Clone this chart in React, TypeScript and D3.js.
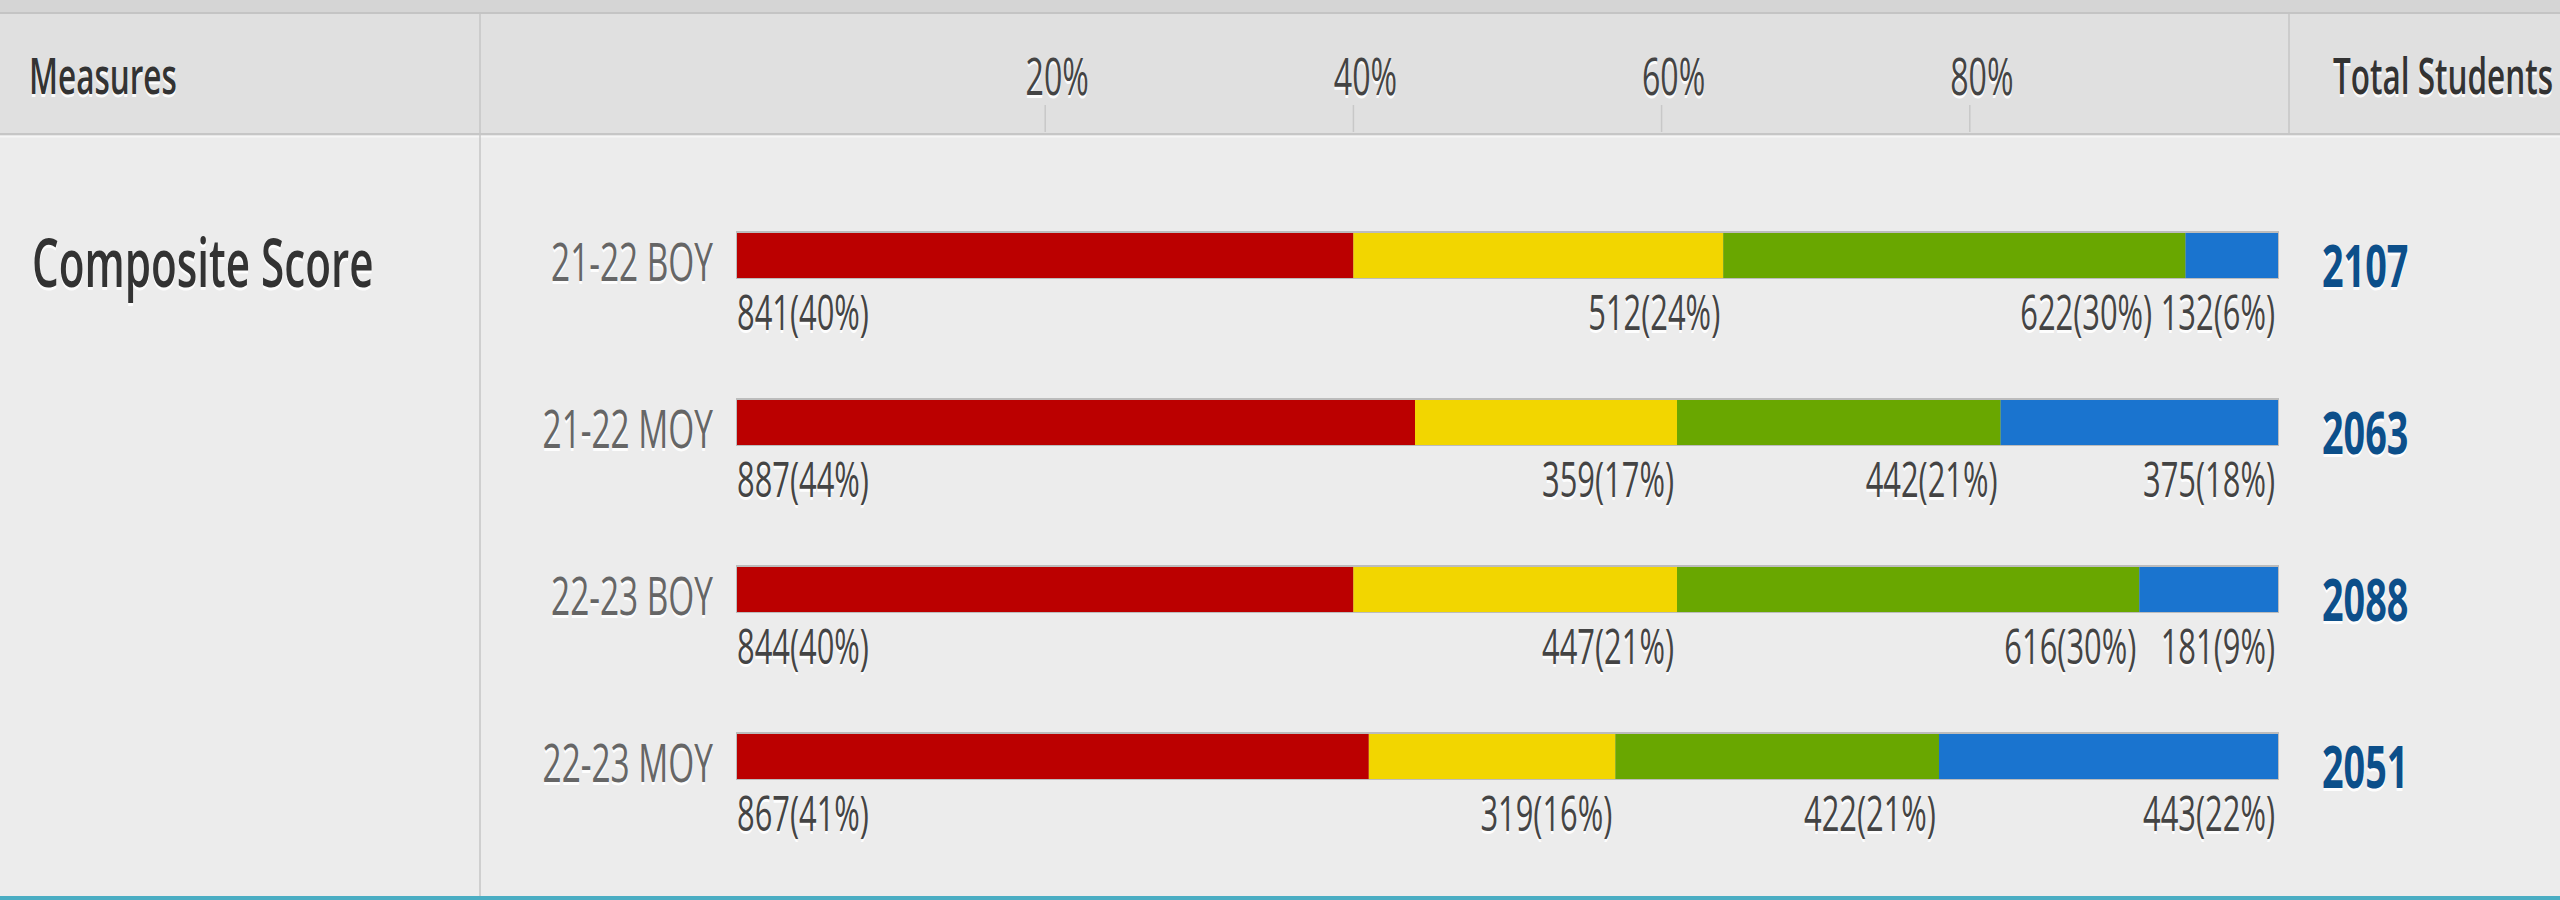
import React, { useEffect } from "react";
import * as d3 from "d3";

// ---- data ----
const periods = ["21-22 BOY", "21-22 MOY", "22-23 BOY", "22-23 MOY"];
const redCounts = [841, 887, 844, 867];
const yellowCounts = [512, 359, 447, 319];
const greenCounts = [622, 442, 616, 422];
const blueCounts = [132, 375, 181, 443];
const redPct = [40, 44, 40, 41];
const yellowPct = [24, 17, 21, 16];
const greenPct = [30, 21, 30, 21];
const bluePct = [6, 18, 9, 22];
const totalStudents = [2107, 2063, 2088, 2051];
const tickValues = [20, 40, 60, 80];
const measureName = "Composite Score";
const headerLabels = ["Measures", "Total Students"];

const W = 2560;
const H = 900;
const FONT = "'Open Sans', 'Noto Sans', sans-serif";
const SX = 0.63;
const segColors = ["#bb0000", "#f2d600", "#69a700", "#1a74cf"];

function approxWidth(s: string, fs: number) {
  let w = 0;
  for (const c of s) {
    if (/[0-9]/.test(c)) w += 0.572;
    else if (c === "(" || c === ")") w += 0.296;
    else if (c === "%") w += 0.838;
    else w += 0.55;
  }
  return w * fs * SX;
}

type TProps = {
  x: number;
  y: number;
  text: string;
  fs: number;
  fill: string;
  weight?: number;
  anchor?: "start" | "middle" | "end";
  shadow?: boolean;
};

function T({ x, y, text, fs, fill, weight = 400, anchor = "start", shadow = true }: TProps) {
  return (
    <g transform={`translate(${x},${y}) scale(${SX},1)`}>
      {shadow && (
        <text
          x={0}
          y={2.5}
          fontFamily={FONT}
          fontSize={fs}
          fontWeight={weight}
          textAnchor={anchor}
          fill="#ffffff"
          opacity={0.9}
        >
          {text}
        </text>
      )}
      <text x={0} y={0} fontFamily={FONT} fontSize={fs} fontWeight={weight} textAnchor={anchor} fill={fill}>
        {text}
      </text>
    </g>
  );
}

export default function App() {
  useEffect(() => {
    document.body.style.margin = "0";
  }, []);

  const x = d3.scaleLinear().domain([0, 100]).range([737, 2278]);
  const y = d3.scalePoint<string>().domain(periods).range([233, 734]);
  const barH = 45;
  const labelFs = 49;

  const rows = periods.map((p, i) => {
    const counts = [redCounts[i], yellowCounts[i], greenCounts[i], blueCounts[i]];
    const pcts = [redPct[i], yellowPct[i], greenPct[i], bluePct[i]];
    const cum = d3.cumsum(pcts);
    const segs = pcts.map((v, j) => ({
      x0: x(j === 0 ? 0 : cum[j - 1]),
      x1: x(cum[j]),
      color: segColors[j],
      label: `${counts[j]}(${v}%)`,
    }));
    // label layout: first left-aligned, others right-aligned at segment end, resolve overlaps
    const labs = segs.map((s, j) => {
      const w = approxWidth(s.label, labelFs);
      if (j === 0) return { text: s.label, right: s.x0 + w, w };
      return { text: s.label, right: s.x1 - 3, w };
    });
    for (let j = labs.length - 2; j >= 1; j--) {
      const nextLeft = labs[j + 1].right - labs[j + 1].w;
      if (labs[j].right > nextLeft - 8) labs[j].right = nextLeft - 8;
    }
    return { p, i, segs, labs, top: y(p) as number };
  });

  return (
    <svg width={W} height={H} style={{ display: "block" }} xmlns="http://www.w3.org/2000/svg">
      {/* backgrounds */}
      <rect x={0} y={0} width={W} height={H} fill="#ececec" />
      <rect x={0} y={0} width={W} height={13} fill="#d5d5d5" />
      <rect x={0} y={12} width={W} height={2} fill="#c4c4c4" />
      <rect x={0} y={14} width={W} height={119} fill="#e0e0e0" />
      <rect x={0} y={133} width={W} height={2.5} fill="#c6c6c6" />
      <rect x={0} y={135.5} width={W} height={2} fill="#f6f6f6" />
      <rect x={0} y={896} width={W} height={4} fill="#4aadc3" />
      {/* dividers */}
      <line x1={480} x2={480} y1={14} y2={896} stroke="#c6c6c6" strokeWidth={1.5} />
      <line x1={2289} x2={2289} y1={14} y2={133} stroke="#c6c6c6" strokeWidth={1.5} />

      {/* header */}
      <T x={29} y={94} text={headerLabels[0]} fs={50} fill="#333" weight={600} />
      <T x={2333} y={94} text={headerLabels[1]} fs={50} fill="#333" weight={600} />
      {tickValues.map((t) => (
        <g key={t}>
          <line x1={x(t)} x2={x(t)} y1={105} y2={132} stroke="#c8c8c8" strokeWidth={1.5} />
          <T x={x(t) + 12} y={95} text={`${t}%`} fs={51} fill="#444" anchor="middle" />
        </g>
      ))}

      {/* measure name */}
      <T x={32} y={287} text={measureName} fs={67} fill="#333" weight={600} />

      {rows.map((r) => (
        <g key={r.p}>
          <T x={713} y={r.top + 48} text={r.p} fs={53} fill="#666" anchor="end" />
          <rect
            x={x(0) - 1}
            y={r.top - 2}
            width={x(100) - x(0) + 2}
            height={barH + 3}
            fill="#bcbcbc"
          />
          {r.segs.map((s, j) => (
            <rect key={j} x={s.x0} y={r.top} width={s.x1 - s.x0} height={barH} fill={s.color} />
          ))}
          {r.labs.map((l, j) => (
            <T
              key={j}
              x={j === 0 ? x(0) : l.right}
              y={r.top + 97}
              text={l.text}
              fs={labelFs}
              fill="#444"
              anchor={j === 0 ? "start" : "end"}
            />
          ))}
          <T x={2322} y={r.top + 54} text={String(totalStudents[r.i])} fs={60} fill="#0c4f8a" weight={700} />
        </g>
      ))}
    </svg>
  );
}
